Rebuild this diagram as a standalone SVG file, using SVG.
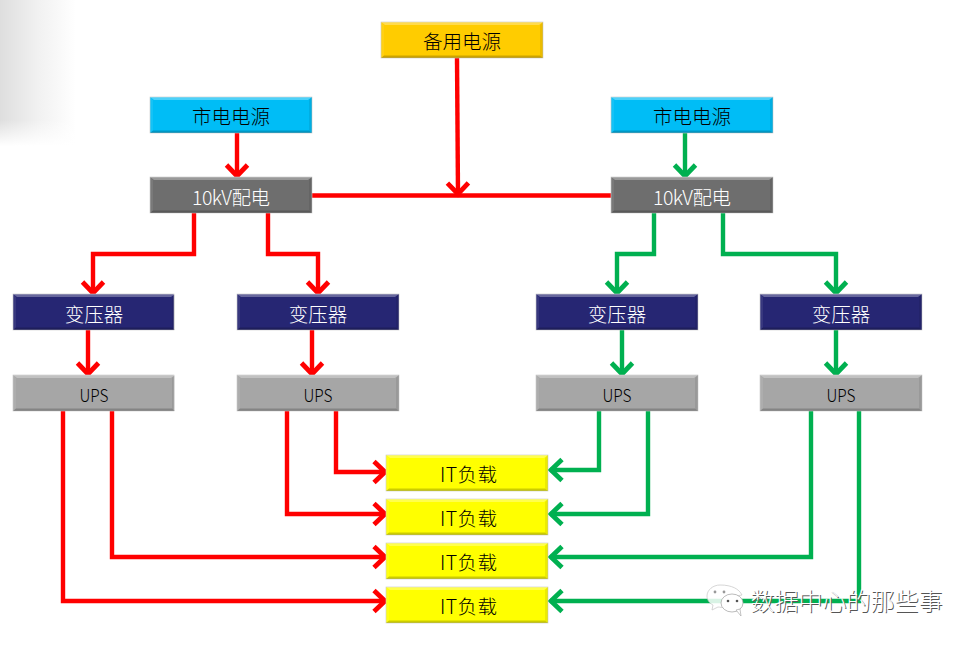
<svg xmlns="http://www.w3.org/2000/svg" xmlns:xlink="http://www.w3.org/1999/xlink" width="974" height="645" viewBox="0 0 974 645">
<style>
text{font-family:"Noto Sans CJK SC","Noto Sans",sans-serif;font-size:19.5px;text-anchor:middle;font-weight:300}
.w{fill:#fff}.k{fill:#000}
.edge{fill:none;stroke-width:4.4;stroke-linejoin:miter}
.r{stroke:#ff0000}.g{stroke:#00b050}
.cyan{fill:#00bdf6}.gray{fill:#6e6e6e}.navy{fill:#262673}.silver{fill:#a6a6a6}.yellow{fill:#ffff00}.gold{fill:#ffcc00}
.box{stroke:#c8c8c8;stroke-width:.6}
</style>
<defs>
<linearGradient id="sh" x1="0" x2="1" y1="0" y2="0"><stop offset="0" stop-color="#dedede"/><stop offset=".5" stop-color="#f1f1f1"/><stop offset="1" stop-color="#fff"/></linearGradient>
<linearGradient id="fade" x1="0" x2="0" y1="0" y2="1"><stop offset="0" stop-color="#fff" stop-opacity="0"/><stop offset="1" stop-color="#fff"/></linearGradient>
<marker id="ar" markerUnits="userSpaceOnUse" markerWidth="28" markerHeight="28" refX="21" refY="14" orient="auto"><path d="M9 3.500L20 14L9 24.500" fill="none" stroke="#ff0000" stroke-width="4.8"/></marker>
<marker id="ag" markerUnits="userSpaceOnUse" markerWidth="28" markerHeight="28" refX="21" refY="14" orient="auto"><path d="M9 3.500L20 14L9 24.500" fill="none" stroke="#00b050" stroke-width="4.8"/></marker>
<g id="bevel">
<polygon points="0,0 162,0 158,3 4,3" fill="#fff" opacity=".3"/>
<polygon points="0,36 162,36 159,33.500 3,33.500" fill="#000" opacity=".2"/>
<polygon points="0,0 3,3 3,33.500 0,36" fill="#fff" opacity=".08"/>
<polygon points="162,0 159,3 159,33.500 162,36" fill="#000" opacity=".08"/>
</g>
</defs>
<rect x="0" y="0" width="76" height="146" fill="url(#sh)"/>
<rect x="0" y="120" width="80" height="26" fill="url(#fade)"/>
<g id="connectors">
<path class="edge r" marker-end="url(#ar)" d="M237 133V177"/>
<path class="edge r" marker-end="url(#ar)" d="M457 58L458 195"/>
<path class="edge r" d="M312 195.500H611"/>
<path class="edge r" marker-end="url(#ar)" d="M194 213V254H93V294"/>
<path class="edge r" marker-end="url(#ar)" d="M268 213V254H318V294"/>
<path class="edge r" marker-end="url(#ar)" d="M88 330V375"/>
<path class="edge r" marker-end="url(#ar)" d="M312 330V375"/>
<path class="edge r" marker-end="url(#ar)" d="M336 410V472H386"/>
<path class="edge r" marker-end="url(#ar)" d="M287 410V514H386"/>
<path class="edge r" marker-end="url(#ar)" d="M112 410V557H386"/>
<path class="edge r" marker-end="url(#ar)" d="M63 410V601H386"/>
<path class="edge g" marker-end="url(#ag)" d="M685 133V177"/>
<path class="edge g" marker-end="url(#ag)" d="M654 213V254H617V294"/>
<path class="edge g" marker-end="url(#ag)" d="M723 213V254H836V294"/>
<path class="edge g" marker-end="url(#ag)" d="M622 330V375"/>
<path class="edge g" marker-end="url(#ag)" d="M836 330V375"/>
<path class="edge g" marker-end="url(#ag)" d="M599 410V470H550"/>
<path class="edge g" marker-end="url(#ag)" d="M648 410V514H550"/>
<path class="edge g" marker-end="url(#ag)" d="M811 410V557H550"/>
<path class="edge g" marker-end="url(#ag)" d="M859 410V601H550"/>
</g>
<g id="backup"><rect class="box gold" x="381" y="22" width="162" height="36"/><use xlink:href="#bevel" x="381" y="22"/><text class="k" x="462" y="49">备用电源</text></g>
<g id="mains-l"><rect class="box cyan" x="150" y="97" width="162" height="36"/><use xlink:href="#bevel" x="150" y="97"/><text class="k" x="231" y="124">市电电源</text></g>
<g id="mains-r"><rect class="box cyan" x="611" y="97" width="162" height="36"/><use xlink:href="#bevel" x="611" y="97"/><text class="k" x="692" y="124">市电电源</text></g>
<g id="dist-l"><rect class="box gray" x="150" y="177" width="162" height="36"/><use xlink:href="#bevel" x="150" y="177"/><text class="w" x="231" y="205" textLength="78">10kV配电</text></g>
<g id="dist-r"><rect class="box gray" x="611" y="177" width="162" height="36"/><use xlink:href="#bevel" x="611" y="177"/><text class="w" x="692" y="205" textLength="78">10kV配电</text></g>
<g id="tx1"><rect class="box navy" x="13" y="294" width="161" height="36"/><use xlink:href="#bevel" x="13" y="294"/><text class="w" x="94" y="322">变压器</text></g>
<g id="tx2"><rect class="box navy" x="237" y="294" width="162" height="36"/><use xlink:href="#bevel" x="237" y="294"/><text class="w" x="318" y="322">变压器</text></g>
<g id="tx3"><rect class="box navy" x="536" y="294" width="162" height="36"/><use xlink:href="#bevel" x="536" y="294"/><text class="w" x="617" y="322">变压器</text></g>
<g id="tx4"><rect class="box navy" x="760" y="294" width="162" height="36"/><use xlink:href="#bevel" x="760" y="294"/><text class="w" x="841" y="322">变压器</text></g>
<g id="ups1"><rect class="box silver" x="13" y="375" width="161" height="36"/><use xlink:href="#bevel" x="13" y="375"/><text class="k" x="94" y="402" style="font-size:18px" textLength="29" lengthAdjust="spacingAndGlyphs">UPS</text></g>
<g id="ups2"><rect class="box silver" x="237" y="375" width="162" height="36"/><use xlink:href="#bevel" x="237" y="375"/><text class="k" x="318" y="402" style="font-size:18px" textLength="29" lengthAdjust="spacingAndGlyphs">UPS</text></g>
<g id="ups3"><rect class="box silver" x="536" y="375" width="162" height="36"/><use xlink:href="#bevel" x="536" y="375"/><text class="k" x="617" y="402" style="font-size:18px" textLength="29" lengthAdjust="spacingAndGlyphs">UPS</text></g>
<g id="ups4"><rect class="box silver" x="760" y="375" width="162" height="36"/><use xlink:href="#bevel" x="760" y="375"/><text class="k" x="841" y="402" style="font-size:18px" textLength="29" lengthAdjust="spacingAndGlyphs">UPS</text></g>
<g id="it1"><rect class="box yellow" x="386" y="455" width="162" height="36"/><use xlink:href="#bevel" x="386" y="455"/><text class="k" x="468.500" y="482" textLength="57">IT负载</text></g>
<g id="it2"><rect class="box yellow" x="386" y="499" width="162" height="36"/><use xlink:href="#bevel" x="386" y="499"/><text class="k" x="468.500" y="526" textLength="57">IT负载</text></g>
<g id="it3"><rect class="box yellow" x="386" y="543" width="162" height="36"/><use xlink:href="#bevel" x="386" y="543"/><text class="k" x="468.500" y="570" textLength="57">IT负载</text></g>
<g id="it4"><rect class="box yellow" x="386" y="587" width="162" height="36"/><use xlink:href="#bevel" x="386" y="587"/><text class="k" x="468.500" y="614" textLength="57">IT负载</text></g>
<g id="watermark">
<path d="M720 585c-7 0-13 5-13 11 0 4 2 7 6 9l-1 5 6-3c2 0 4 1 6 0 4-6 9-11 18-12-3-6-10-10-22-10z" fill="#fff" stroke="#bbb" stroke-width=".7" opacity=".85"/>
<ellipse cx="732" cy="603" rx="11" ry="9" fill="#fff" stroke="#aaa" stroke-width=".8"/>
<path d="M736 610l5 6-1-7z" fill="#fff" stroke="#aaa" stroke-width=".7"/>
<circle cx="715" cy="592" r="1.400" fill="#999"/><circle cx="724" cy="592" r="1.400" fill="#999"/>
<circle cx="728" cy="601" r="1.300" fill="#555"/><circle cx="737" cy="601" r="1.300" fill="#555"/>
<text x="847.500" y="611" style="font-size:24px;fill:#555">数据中心的那些事</text>
<text x="846.500" y="610" style="font-size:24px;fill:#fff">数据中心的那些事</text>
</g>
</svg>
